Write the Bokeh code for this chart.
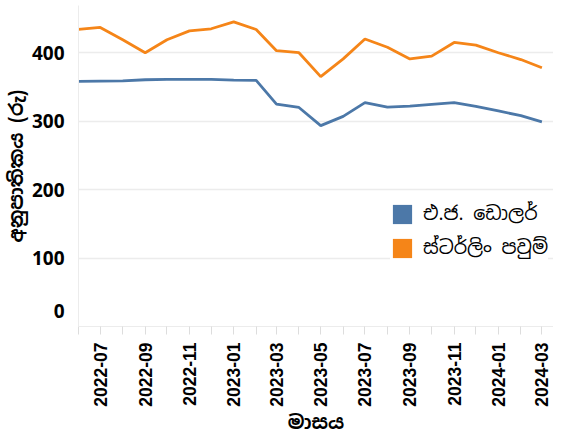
import numpy as np
import pandas as pd
from bokeh.plotting import figure
from bokeh.models import (ColumnDataSource, Legend, LegendItem, MonthsTicker,
                          CustomJSTickFormatter, Range1d)
from bokeh.embed import file_html
from bokeh.resources import INLINE

# ---- data ----
months = ["2022-06", "2022-07", "2022-08", "2022-09", "2022-10", "2022-11", "2022-12",
          "2023-01", "2023-02", "2023-03", "2023-04", "2023-05", "2023-06", "2023-07",
          "2023-08", "2023-09", "2023-10", "2023-11", "2023-12", "2024-01", "2024-02",
          "2024-03"]
usd = [358, 358.5, 359, 360.5, 361, 361, 361, 360, 359.5, 325, 320, 293.5, 307, 327,
       320.5, 322, 324.5, 327, 321.5, 315, 308, 299]
gbp = [434, 437, 419, 400, 419, 432, 435, 445, 434, 403, 400, 365, 391, 420, 408, 391,
       395, 415, 411, 400, 390, 378]
series_names = ["එ.ජ. ඩොලර්", "ස්ටර්ලිං පවුම්"]
series_colors = ["#4c78a8", "#f58518"]
y_ticks = [0, 100, 200, 300, 400]
x_title = "මාසය"
y_title = "අනුපාතිකය (රු)"

SIN = "Noto Sans Sinhala"

dates = pd.to_datetime(months)
src = ColumnDataSource(dict(date=dates, usd=usd, gbp=gbp))

x0, x1 = pd.Timestamp("2022-06-01"), pd.Timestamp("2024-03-17")
p = figure(width=553, height=437, x_axis_type="datetime",
           output_backend="svg", toolbar_location=None,
           x_range=Range1d(x0, x1), y_range=Range1d(0, 469),
           min_border_left=72, min_border_top=5, min_border_right=0,
           min_border_bottom=111)
p.outline_line_color = None
p.background_fill_color = "white"

p.line("date", "usd", source=src, line_color=series_colors[0], line_width=2.8)
p.line("date", "gbp", source=src, line_color=series_colors[1], line_width=2.8)

grid_col = "#ececec"
# y axis
yax = p.yaxis[0]
yax.ticker = y_ticks
yax.axis_line_color = grid_col
yax.major_tick_line_color = None
yax.minor_tick_line_color = None
yax.major_label_text_font = "Noto Sans"
yax.major_label_text_font_style = "bold"
yax.major_label_text_font_size = "19px"
yax.major_label_text_color = "black"
yax.major_label_standoff = 8
yax.major_label_overrides = {0: "0\n "}
yax.axis_label = y_title
yax.axis_label_text_font = SIN
yax.axis_label_text_font_style = "bold"
yax.axis_label_text_font_size = "19px"
yax.axis_label_text_color = "black"
yax.axis_label_standoff = 0

# x axis
xax = p.xaxis[0]
xax.ticker = MonthsTicker(months=list(range(1, 13)))
xax.formatter = CustomJSTickFormatter(code="""
const d = new Date(tick);
const m = d.getUTCMonth() + 1;
if (m % 2 == 0) return "";
return d.getUTCFullYear() + "-" + (m < 10 ? "0" + m : "" + m);
""")
xax.axis_line_color = grid_col
xax.major_tick_line_color = "#dddddd"
xax.major_tick_in = 0
xax.major_tick_out = 8
xax.minor_tick_line_color = None
xax.major_label_orientation = 1.5707963
xax.major_label_text_font = "Liberation Sans"
xax.major_label_text_font_style = "bold"
xax.major_label_text_font_size = "17.5px"
xax.major_label_text_color = "black"
xax.major_label_standoff = 8
xax.axis_label = x_title
xax.axis_label_text_font = SIN
xax.axis_label_text_font_style = "bold"
xax.axis_label_text_font_size = "19px"
xax.axis_label_text_color = "black"
xax.axis_label_standoff = 0

p.xgrid.grid_line_color = None
p.ygrid.ticker = y_ticks
p.ygrid.grid_line_color = grid_col
p.ygrid.grid_line_width = 1.5

# legend swatches (square patches, no visible data)
sw = [p.quad(left=[np.nan], right=[np.nan], top=[np.nan], bottom=[np.nan],
             fill_color=c, line_color=None) for c in series_colors]

legend = Legend(items=[LegendItem(label=n, renderers=[r]) for n, r in zip(series_names, sw)],
                location=(312, 66), padding=0, margin=0, spacing=9,
                glyph_width=24, glyph_height=24, label_height=24,
                label_standoff=9, border_line_color=None,
                background_fill_color="white", background_fill_alpha=1,
                label_text_font=SIN, label_text_font_size="19px",
                label_text_color="black")
p.add_layout(legend, "center")

open("out.html", "w").write(file_html(p, INLINE))
